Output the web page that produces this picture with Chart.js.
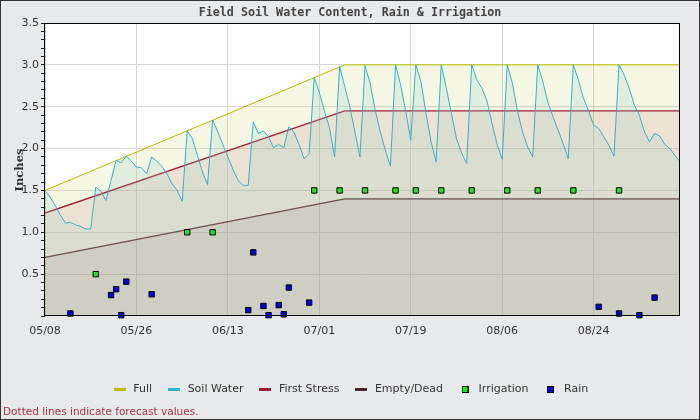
<!DOCTYPE html>
<html>
<head>
<meta charset="utf-8">
<script src="https://cdn.jsdelivr.net/npm/chart.js@4.4.1/dist/chart.umd.min.js"></script>
<style>
  body { margin: 0; background: #e8e9eb; }
  #wrap { width: 700px; height: 420px; }
</style>
</head>
<body>
<div id="wrap"><canvas id="chart" width="700" height="420"></canvas></div>
<script>
// x axis is days since 05/08
const dateLabels = ['05/08', '05/26', '06/13', '07/01', '07/19', '08/06', '08/24'];

const fullDays = [0, 59, 125];
const fullVals = [1.50, 3.00, 3.00];
const stressVals = [1.23, 2.45, 2.45];
const emptyVals = [0.70, 1.40, 1.40];

// soil water, one value per day (day 0 .. 125)
const soilWater = [
  1.50, 1.42, 1.32, 1.21, 1.11, 1.12, 1.09, 1.07, 1.04, 1.04,
  1.54, 1.49, 1.38, 1.62, 1.86, 1.83, 1.91, 1.85, 1.78, 1.77,
  1.70, 1.90, 1.85, 1.79, 1.70, 1.58, 1.50, 1.37, 2.21, 2.12,
  1.92, 1.72, 1.57, 2.34, 2.20, 2.05, 1.90, 1.75, 1.62, 1.56,
  1.56, 2.32, 2.18, 2.21, 2.14, 2.01, 2.05, 2.01, 2.26, 2.20,
  2.05, 1.88, 1.94, 2.85, 2.67, 2.45, 2.25, 1.90, 2.98, 2.74,
  2.50, 2.20, 1.90, 2.99, 2.78, 2.46, 2.20, 1.98, 1.79, 3.00,
  2.76, 2.45, 2.10, 3.00, 2.80, 2.42, 2.08, 1.84, 3.00, 2.72,
  2.42, 2.12, 1.95, 1.82, 3.00, 2.82, 2.72, 2.57, 2.30, 2.05,
  1.87, 3.00, 2.78, 2.45, 2.20, 2.02, 1.90, 3.00, 2.80, 2.55,
  2.38, 2.22, 2.06, 1.88, 3.00, 2.82, 2.60, 2.45, 2.28, 2.24,
  2.14, 2.04, 1.91, 3.00, 2.88, 2.72, 2.52, 2.40, 2.20, 2.08,
  2.18, 2.15, 2.05, 2.00, 1.92, 1.84
];

const irrigDays = [10, 28, 33, 53, 58, 63, 69, 73, 78, 84, 91, 97, 104, 113];
const irrigVals = [0.5, 1.0, 1.0, 1.5, 1.5, 1.5, 1.5, 1.5, 1.5, 1.5, 1.5, 1.5, 1.5, 1.5];

const rainDays = [5, 13, 14, 15, 16, 21, 40, 41, 43, 44, 46, 47, 48, 52, 109, 113, 117, 120];
const rainVals = [0.03, 0.25, 0.32, 0.01, 0.41, 0.26, 0.07, 0.76, 0.12, 0.01, 0.13, 0.02, 0.34, 0.16, 0.11, 0.03, 0.01, 0.22];

function pts(xs, ys) {
    return xs.map(function (x, i) { return { x: x, y: ys[i] }; });
}

// small canvases used as legend symbols
function lineIcon(color) {
    var c = document.createElement('canvas');
    c.width = 12; c.height = 3;
    var g = c.getContext('2d');
    g.fillStyle = color;
    g.fillRect(0, 0, 12, 3);
    return c;
}
function boxIcon(color) {
    var c = document.createElement('canvas');
    c.width = 7; c.height = 7;
    var g = c.getContext('2d');
    g.fillStyle = '#000';
    g.fillRect(0, 0, 7, 7);
    g.fillStyle = color;
    g.fillRect(1, 1, 5, 5);
    return c;
}

const frame = {
    id: 'frame',
    beforeDraw(chart) {
        var ctx = chart.ctx, a = chart.chartArea;
        ctx.save();
        ctx.fillStyle = '#e8e9eb';
        ctx.fillRect(0, 0, chart.width, chart.height);
        ctx.fillStyle = '#ffffff';
        ctx.fillRect(a.left, a.top, a.right - a.left, a.bottom - a.top);
        ctx.restore();
    },
    afterDraw(chart) {
        var ctx = chart.ctx, a = chart.chartArea;
        ctx.save();
        ctx.strokeStyle = '#000';
        ctx.lineWidth = 1;
        ctx.strokeRect(Math.round(a.left) - 0.5, Math.round(a.top) + 0.5,
            Math.round(a.right - a.left), Math.round(a.bottom - a.top) - 1);

        ctx.fillStyle = '#444';
        ctx.font = 'bold 11.7px "DejaVu Sans Mono"';
        ctx.textAlign = 'center';
        ctx.textBaseline = 'middle';
        ctx.fillText('Field Soil Water Content, Rain & Irrigation', 350, 13);

        ctx.save();
        ctx.translate(20, 170);
        ctx.rotate(-Math.PI / 2);
        ctx.fillStyle = '#333';
        ctx.font = 'bold 11.5px "DejaVu Serif"';
        ctx.fillText('Inches', 0, 0);
        ctx.restore();

        ctx.textAlign = 'left';
        ctx.fillStyle = '#a8334a';
        ctx.font = '10.5px "DejaVu Sans"';
        ctx.fillText('Dotted lines indicate forecast values.', 3, 412);

        ctx.strokeStyle = '#333';
        ctx.strokeRect(0.5, 0.5, chart.width - 1, chart.height - 1);
        ctx.restore();
    }
};

Chart.defaults.font.family = '"DejaVu Sans"';
Chart.defaults.font.size = 11;
Chart.defaults.color = '#333';

const legendIcons = [
    lineIcon('#bdbd00'), lineIcon('#2db4d2'), lineIcon('#a01c34'),
    lineIcon('#4d2424'), boxIcon('#22e622'), boxIcon('#0000e6')
];

new Chart(document.getElementById('chart'), {
    type: 'line',
    data: {
        datasets: [
            {
                label: 'Full',
                data: pts(fullDays, fullVals),
                borderColor: '#bdbd00',
                borderWidth: 1,
                backgroundColor: 'rgba(190,200,60,0.14)',
                fill: 'origin',
                pointRadius: 0,
                order: 4
            },
            {
                label: 'Soil Water',
                data: pts(soilWater.map(function (v, i) { return i; }), soilWater),
                borderColor: '#2db4d2',
                borderWidth: 1,
                backgroundColor: 'rgba(150,207,198,0.2)',
                fill: 'origin',
                pointRadius: 0,
                order: 1
            },
            {
                label: 'First Stress',
                data: pts(fullDays, stressVals),
                borderColor: '#a01c34',
                borderWidth: 1.3,
                backgroundColor: 'rgba(185,110,108,0.15)',
                fill: 'origin',
                pointRadius: 0,
                order: 2
            },
            {
                label: 'Empty/Dead',
                data: pts(fullDays, emptyVals),
                borderColor: '#4d2424',
                borderWidth: 1.2,
                backgroundColor: 'rgba(120,100,105,0.15)',
                fill: 'origin',
                pointRadius: 0,
                order: 3
            },
            {
                label: 'Irrigation',
                type: 'scatter',
                data: pts(irrigDays, irrigVals),
                pointStyle: 'rect',
                pointRadius: 3.8,
                backgroundColor: '#22e622',
                borderColor: '#000',
                borderWidth: 1,
                clip: false,
                order: 0
            },
            {
                label: 'Rain',
                type: 'scatter',
                data: pts(rainDays, rainVals),
                pointStyle: 'rect',
                pointRadius: 3.8,
                backgroundColor: '#0000e6',
                borderColor: '#000',
                borderWidth: 1,
                clip: false,
                order: 0
            }
        ]
    },
    options: {
        responsive: false,
        animation: false,
        events: [],
        layout: { padding: { left: 0, right: 0, top: 23, bottom: 15 } },
        scales: {
            x: {
                type: 'linear',
                min: 0,
                max: 125,
                afterFit: function (scale) { scale.height = 54; },
                border: { display: false },
                grid: { color: '#d8d8d8', drawTicks: false },
                ticks: {
                    stepSize: 18,
                    includeBounds: false,
                    padding: 9,
                    maxRotation: 0,
                    callback: function (value) { return dateLabels[Math.round(value / 18)]; }
                }
            },
            y: {
                min: 0,
                max: 3.5,
                afterFit: function (scale) { scale.width = 45; },
                border: { display: false },
                grid: {
                    tickLength: 4,
                    tickColor: '#222',
                    color: function (c) {
                        var v = Math.round(c.tick.value * 10);
                        return (v % 5 === 0 && v > 0 && v < 35) ? '#d8d8d8' : 'rgba(0,0,0,0)';
                    }
                },
                ticks: {
                    stepSize: 0.1,
                    autoSkip: false,
                    maxTicksLimit: 60,
                    padding: 2,
                    callback: function (value) {
                        var v = Math.round(value * 10);
                        return (v % 5 === 0 && v > 0) ? (v / 10).toFixed(1) : '';
                    }
                }
            },
            yR: {
                position: 'right',
                afterFit: function (scale) { scale.width = 20; },
                border: { display: false },
                grid: { display: false, drawTicks: false },
                ticks: { display: false }
            }
        },
        plugins: {
            legend: {
                position: 'bottom',
                labels: {
                    usePointStyle: true,
                    pointStyleWidth: 16,
                    padding: 14,
                    color: '#333',
                    font: { size: 11 },
                    generateLabels: function (chart) {
                        return chart.data.datasets.map(function (ds, i) {
                            return {
                                text: ds.label,
                                pointStyle: legendIcons[i],
                                datasetIndex: i,
                                fontColor: '#333',
                                lineWidth: 0,
                                hidden: false
                            };
                        });
                    }
                }
            },
            tooltip: { enabled: false }
        }
    },
    plugins: [frame]
});
</script>
</body>
</html>
